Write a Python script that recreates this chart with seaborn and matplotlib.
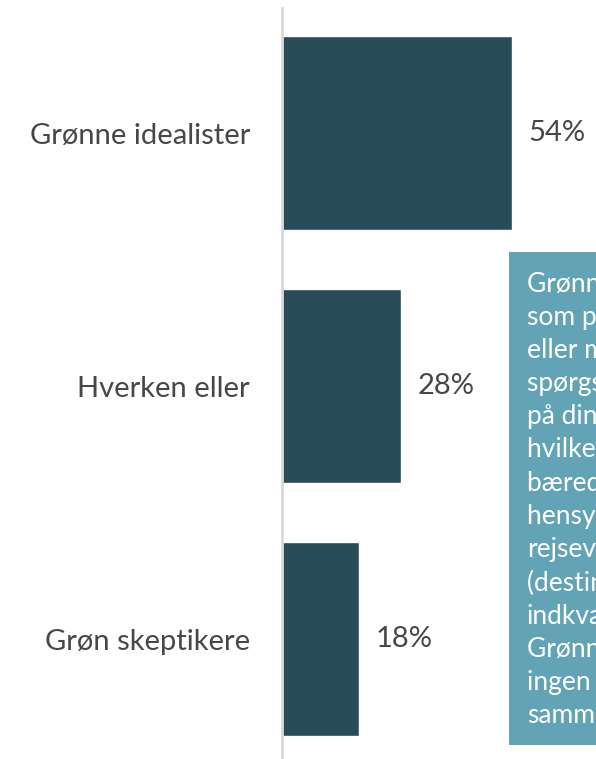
import matplotlib
matplotlib.use("Agg")
import matplotlib.pyplot as plt
import seaborn as sns
import pandas as pd
from matplotlib.patches import Rectangle

categories = ["Grønne idealister", "Hverken eller", "Grøn skeptikere"]
shares = [54, 28, 18]
labels = ["54%", "28%", "18%"]
note_lines = [
    "Grønne idealister er dem,",
    "som på en skala fra 0-10",
    "eller mere har svaret",
    "spørgsmålet om i hvor",
    "på din seneste rejse",
    "hvilke hensyn til",
    "bæredygtighed du tog",
    "hensyn til i dine",
    "rejsevalg",
    "(destination, transport,",
    "indkvartering).",
    "Grønne skeptikere har",
    "ingen eller lille",
    "sammenhæng.",
]

df = pd.DataFrame({"kategori": categories, "andel": shares})

sns.set_theme(style="white")
plt.rcParams["font.family"] = ["Lato", "DejaVu Sans"]

fig = plt.figure(figsize=(5.96, 7.59), dpi=100)
W, H = 596, 759
ax = fig.add_axes([282 / W, 1 - 758 / H, (W - 282) / W, 750 / H])

sns.barplot(data=df, x="andel", y="kategori", color="#284d59", width=0.767,
            saturation=1, ax=ax)
ax.set_xlim(0, 314 / 4.26)
ax.set_ylim(2.47, -0.494)
ax.set_xlabel("")
ax.set_ylabel("")
ax.set_xticks([])
for s in ["top", "right", "bottom"]:
    ax.spines[s].set_visible(False)
ax.spines["left"].set_color("#d9d9d9")
ax.spines["left"].set_linewidth(2)
ax.tick_params(axis="y", length=0, pad=23, labelsize=21, labelcolor="#474747")

for bar, lab in zip(ax.patches, labels):
    ax.annotate(lab, (bar.get_width(), bar.get_y() + bar.get_height() / 2),
                xytext=(12, 0), textcoords="offset points",
                va="center", ha="left", fontsize=21, color="#474747")

# note box, cut off at the right edge as in the source
fig.patches.append(Rectangle((509 / W, 1 - 745 / H), 200 / W, 493 / H,
                             transform=fig.transFigure, facecolor="#62a3b6",
                             edgecolor="none", zorder=5))
for i, line in enumerate(note_lines):
    fig.text(527 / W, 1 - (284 + i * 33.2) / H, line, color="white",
             fontsize=19, va="center", ha="left", zorder=6)

fig.savefig("out.png", dpi=100)
